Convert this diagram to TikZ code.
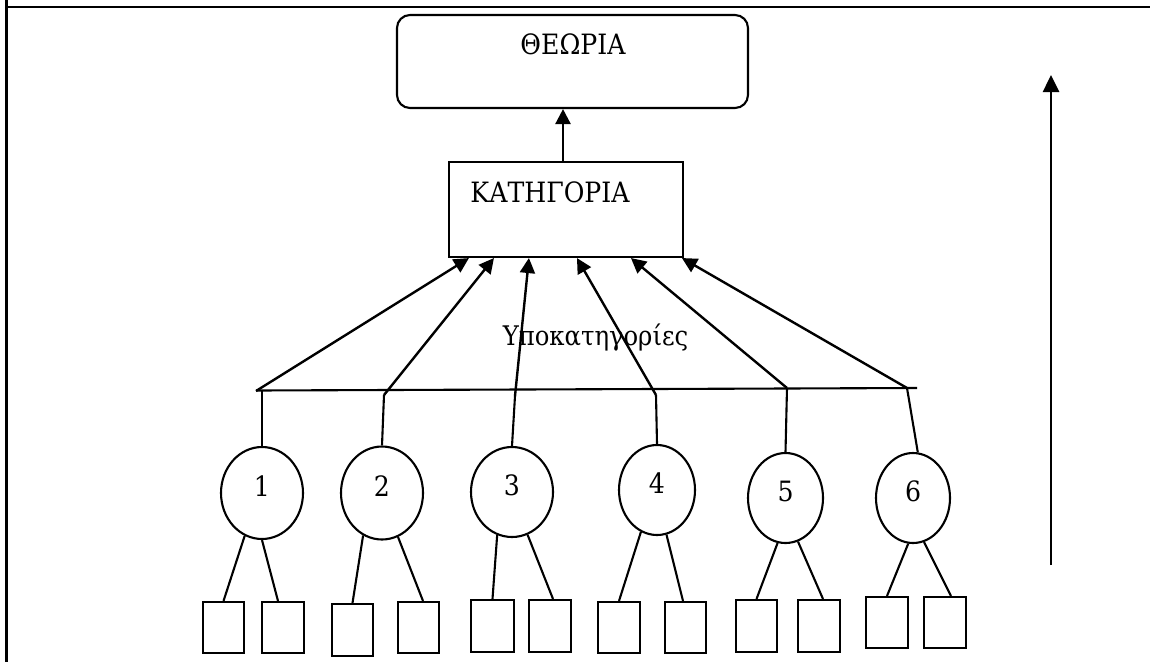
\documentclass[tikz,border=0pt]{standalone}
\usepackage{fontspec}
\setmainfont{DejaVu Serif Condensed}
\usetikzlibrary{shapes.geometric,arrows.meta}
% number inside a sub-category ellipse, set a little above the middle
\newcommand\circnum[1]{\raisebox{-3pt}[0pt][0pt]{#1}}
\begin{document}
\begin{tikzpicture}[x=1pt,y=-1pt,
  every node/.style={font=\fontsize{28}{34}\selectfont},
  line width=2.1pt,
  frame/.style={line width=2.4pt},
  roundbox/.style={draw, rounded corners=13pt, minimum width=351pt, minimum height=93pt, inner sep=0pt},
  catbox/.style={draw, minimum width=234pt, minimum height=95pt, inner sep=0pt},
  sub/.style={draw, ellipse, inner sep=0pt, minimum width=82pt, minimum height=92pt},
  leaf/.style={draw, rectangle, inner sep=0pt, minimum width=41pt, minimum height=51pt},
  plaintext/.style={inner sep=0pt},
  up/.style={line width=2.4pt, -{Triangle[length=15pt,width=15pt]}},
  bigup/.style={line width=2.6pt, -{Triangle[length=17pt,width=16pt]}},
]
\useasboundingbox (0,0) rectangle (1150,662);

% page frame
\draw[frame] (6.5,0) -- (6.5,662);
\draw[frame] (6.5,7) -- (1150,7);

% theory and category boxes
\node[roundbox] (theory) at (572.5,61.5) {};
\node[plaintext] (theorytext) at (573,44) {ΘΕΩΡΙΑ};
\node[catbox] (cat) at (566,209.5) {};
\node[plaintext] (cattext) at (550,192) {ΚΑΤΗΓΟΡΙΑ};
\draw[up] ([xshift=-3pt]cat.north) -- ([xshift=-3pt]cat.north |- theory.south);

% sub-category label
\node[plaintext, anchor=base, font=\fontsize{27}{32}\selectfont] (subtext) at (595.5,345) {Υποκατηγορίες};

% collecting bar and its junctions
\coordinate (barL) at (256,390.5);
\coordinate (barR) at (917,388);
\draw (barL) -- (barR);
\coordinate (j1) at (256,391);
\coordinate (v1) at (262,390);
\coordinate (j2) at (384,395);
\coordinate (j3) at (515,396);
\coordinate (j4) at (656,395);
\coordinate (j5) at (787,388);
\coordinate (j6) at (907,388);

% arrows from the bar into the category
\draw[up] (j1) -- ([xshift=21pt]cat.south west);
\draw[up] (j2) -- ([xshift=46pt]cat.south west);
\draw[up] (j3) -- ([xshift=81pt]cat.south west);
\draw[up] (j4) -- ([xshift=129pt]cat.south west);
\draw[up] (j5) -- ([xshift=183pt]cat.south west);
\draw[up] (j6) -- ([xshift=234pt]cat.south west);

% sub-categories
\node[sub] (c1) at (262,493) {\circnum{1}};
\node[sub, minimum height=93pt] (c2) at (382,493) {\circnum{2}};
\node[sub, minimum height=90pt] (c3) at (512,492) {\circnum{3}};
\node[sub, minimum width=76pt, minimum height=90pt] (c4) at (657,490) {\circnum{4}};
\node[sub, minimum width=75pt, minimum height=90pt] (c5) at (785.5,498) {\circnum{5}};
\node[sub, minimum width=74pt, minimum height=90pt] (c6) at (913,498) {\circnum{6}};

\draw (v1) -- (c1.north);
\draw (j2) -- (c2.north);
\draw (j3) -- (c3.north);
\draw (j4) -- (c4.north);
\draw (j5) -- (c5.north);
\draw (j6) -- (c6.84);

% leaves
\node[leaf] (s1a) at (223.5,627.5) {};
\node[leaf, minimum width=42pt] (s1b) at (283,627.5) {};
\node[leaf, minimum height=52pt] (s2a) at (352.5,630) {};
\node[leaf] (s2b) at (418.5,627.5) {};
\node[leaf, minimum width=43pt, minimum height=52pt] (s3a) at (492.5,626) {};
\node[leaf, minimum width=42pt, minimum height=52pt] (s3b) at (550,626) {};
\node[leaf, minimum width=42pt] (s4a) at (619,627.5) {};
\node[leaf] (s4b) at (685.5,627.5) {};
\node[leaf, minimum height=52pt] (s5a) at (756.5,626) {};
\node[leaf, minimum width=42pt, minimum height=52pt] (s5b) at (819,626) {};
\node[leaf, minimum width=42pt] (s6a) at (887,622.5) {};
\node[leaf, minimum width=42pt] (s6b) at (945,622.5) {};

\draw (c1.248) -- (s1a.north);
\draw (c1.270) -- ([xshift=-5pt]s1b.north);
\draw (c2.246) -- (s2a.north);
\draw (c2.290) -- ([xshift=4.5pt]s2b.north);
\draw (c3.251) -- (s3a.north);
\draw (c3.290) -- ([xshift=3pt]s3b.north);
\draw (c4.249) -- (s4a.north);
\draw (c4.282) -- ([xshift=-2.5pt]s4b.north);
\draw (c5.260) -- (s5a.north);
\draw (c5.286) -- ([xshift=4pt]s5b.north);
\draw (c6.264) -- (s6a.north);
\draw (c6.284) -- ([xshift=6pt]s6b.north);

% upward direction arrow
\coordinate (upS) at (1051,565);
\coordinate (upE) at (1051,75);
\draw[bigup] (upS) -- (upE);
\end{tikzpicture}
\end{document}
